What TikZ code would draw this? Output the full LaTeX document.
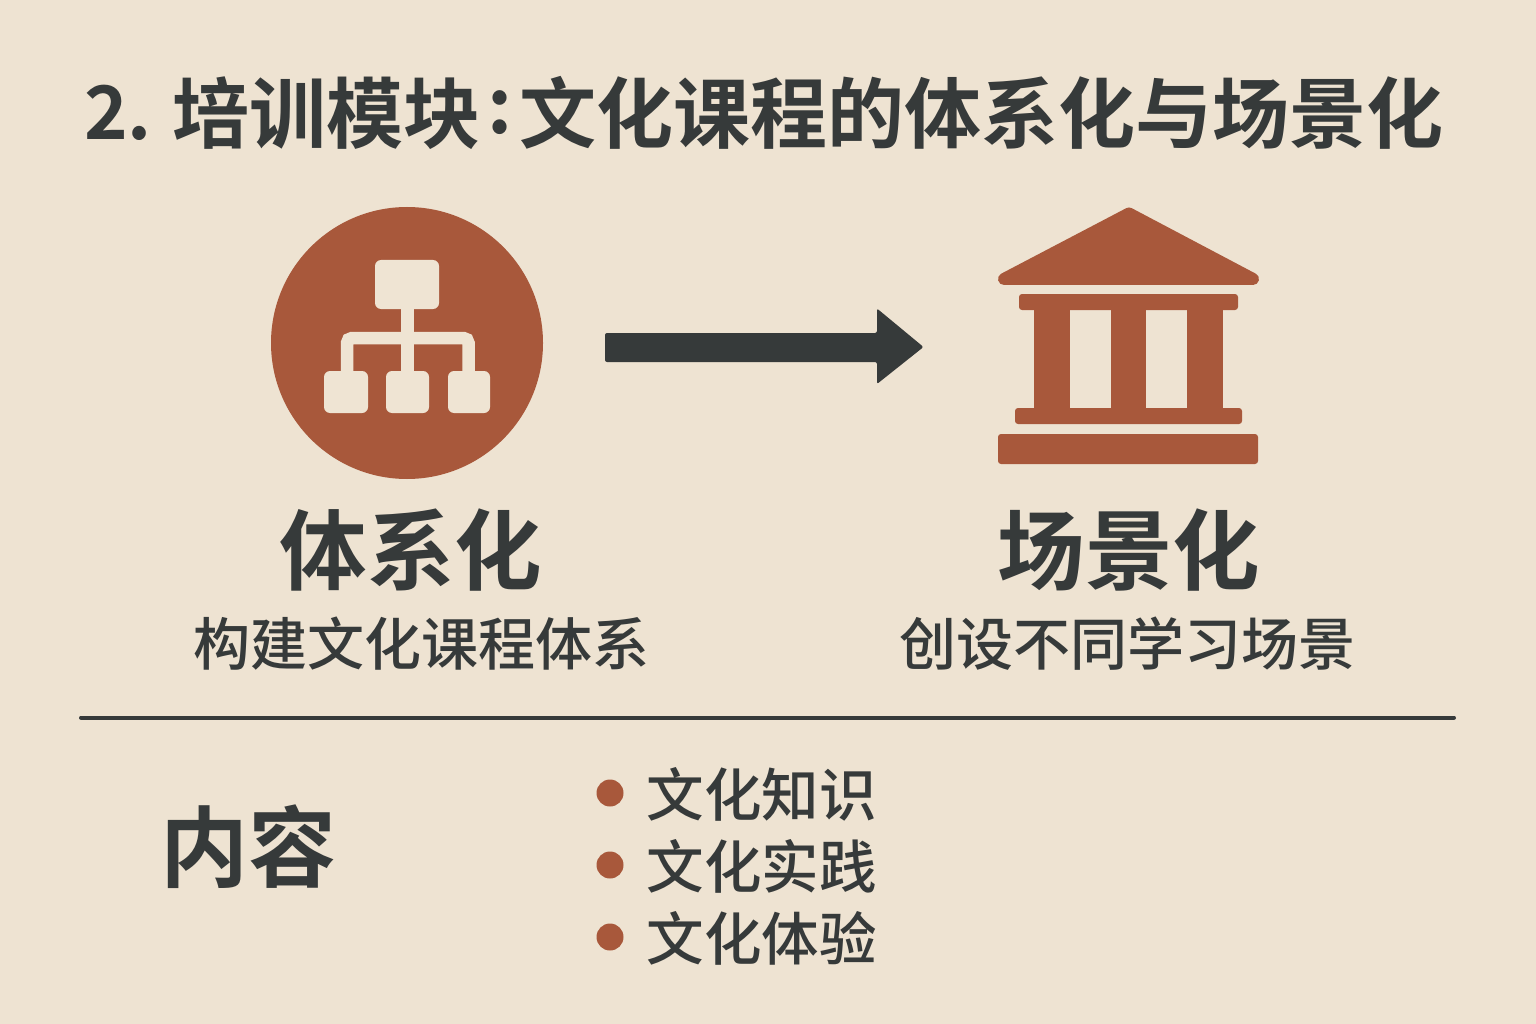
\documentclass[tikz,border=0pt]{standalone}
\usepackage{fontspec}
\newfontfamily\cjk{Noto Sans CJK SC Medium}
\newfontfamily\cjkb{Noto Sans CJK SC Bold}
\definecolor{bgc}{HTML}{EEE3D2}
\definecolor{rust}{HTML}{A8583B}
\definecolor{ink}{HTML}{363A3A}
\definecolor{paper}{HTML}{EFE4D3}
\tikzset{
  txt/.style={inner sep=0pt,text=ink,font=\cjk},
  head/.style={inner sep=0pt,text=ink,font=\cjkb},
  bul/.style={circle,fill=rust,minimum size=27pt,inner sep=0pt},
  ibox/.style={fill=paper,rounded corners=6pt,draw=none},
  iline/.style={draw=paper,line width=12.5pt},
  rbar/.style={fill=rust,rounded corners=3pt,draw=none}
}
\begin{document}
\begin{tikzpicture}[x=1pt,y=-1pt]
\useasboundingbox (0,0) rectangle (1536,1024);
\fill[bgc] (0,0) rectangle (1536,1024);
\node[head,font=\cjkb\fontsize{77}{77}\selectfont,anchor=east] (t1) at (1444,113) {文化课程的体系化与场景化};
\node[head,font=\cjkb\fontsize{77}{77}\selectfont,anchor=west] (t2) at (172,113) {培训模块};
\node[head,font=\cjkb\fontsize{77}{77}\selectfont] (t3) at (500,113) {:};
\node[head,font=\cjkb\fontsize{74}{74}\selectfont,anchor=west] (t4) at (84,113) {2.};
\node[circle,fill=rust,minimum size=272pt,inner sep=0pt] (sys) at (407,343) {};
\draw[iline] (407.5,300) -- (407.5,380);
\draw[iline,rounded corners=5pt] (347,378) -- (347,338) -- (468.5,338) -- (468.5,378);
\fill[ibox] (375,260) rectangle (439,309);
\fill[ibox] (324,371) rectangle (368,413);
\fill[ibox] (386,371) rectangle (429,413);
\fill[ibox] (448,371) rectangle (490,413);
\coordinate (arrS) at (605,347);
\coordinate (arrE) at (922,347);
\fill[ink,rounded corners=2pt] (605,333) -- (877,333) -- (877,308.5) -- (923.5,347) -- (877,384) -- (877,362) -- (605,362) -- cycle;
\fill[rust,draw=rust,line width=12pt,line join=round] (1129,213.5) -- (1253,279) -- (1004,279) -- cycle;
\fill[rbar] (1019,294) rectangle (1238,310);
\fill[rust] (1034,305) rectangle (1070,412);
\fill[rust] (1111,305) rectangle (1146,412);
\fill[rust] (1187,305) rectangle (1223,412);
\fill[rbar] (1015,408) rectangle (1242,424);
\fill[rbar] (998,434) rectangle (1258,464);
\node[head,font=\cjkb\fontsize{87.5}{87.5}\selectfont] (a1) at (411,550) {体系化};
\node[txt,font=\cjk\fontsize{57}{57}\selectfont] (a2) at (421.5,644) {构建文化课程体系};
\node[head,font=\cjkb\fontsize{87.5}{87.5}\selectfont] (b1) at (1129,550) {场景化};
\node[txt,font=\cjk\fontsize{57}{57}\selectfont] (b2) at (1127,644) {创设不同学习场景};
\coordinate (ruleL) at (81,717.5);
\coordinate (ruleR) at (1454,717.5);
\draw[ink,line width=4pt,line cap=round] (ruleL) -- (ruleR);
\node[head,font=\cjkb\fontsize{88}{88}\selectfont] (nr) at (248,847) {内容};
\node[bul] (d1) at (610,793) {};
\node[bul] (d2) at (610,865) {};
\node[bul] (d3) at (610,937) {};
\node[txt,font=\cjk\fontsize{57.5}{57.5}\selectfont,anchor=west] (l1) at (646.5,794) {文化知识};
\node[txt,font=\cjk\fontsize{57.5}{57.5}\selectfont,anchor=west] (l2) at (646.5,866) {文化实践};
\node[txt,font=\cjk\fontsize{57.5}{57.5}\selectfont,anchor=west] (l3) at (646.5,938) {文化体验};
\end{tikzpicture}
\end{document}
